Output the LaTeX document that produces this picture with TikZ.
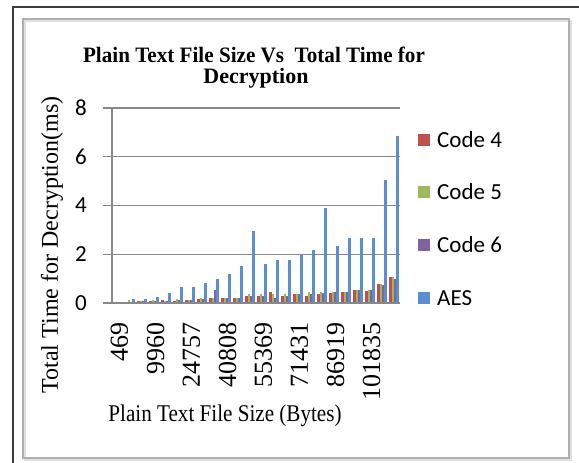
\documentclass[tikz,border=0pt]{standalone}
\usepackage{fontspec}
\setmainfont{Liberation Serif}
\newfontfamily\calfont{Carlito}
\usepackage{graphicx}

\definecolor{codeFour}{HTML}{C0504D}
\definecolor{codeFive}{HTML}{9BBB59}
\definecolor{codeSix}{HTML}{8064A2}
\definecolor{aesBlue}{HTML}{5A8ED0}
\definecolor{gridGray}{RGB}{136,136,136}
\definecolor{frameDark}{RGB}{60,60,60}
\definecolor{panelGray}{RGB}{175,175,175}

\tikzset{
  outerframe/.style={draw=frameDark, line width=1.4pt},
  panel/.style={draw=panelGray, line width=1.3pt},
  panelshadow/.style={draw=black!12, line width=1.6pt},
  gridline/.style={draw=gridGray, line width=1.4pt},
  axisline/.style={draw=gridGray, line width=1.6pt},
  titletext/.style={font=\bfseries\fontsize{22}{22}\selectfont, inner sep=0pt, anchor=base},
  ytick/.style={font=\calfont\fontsize{23}{23}\selectfont, inner sep=0pt, anchor=east},
  xtick/.style={font=\fontsize{26}{26}\selectfont, inner sep=0pt, anchor=east, rotate=90},
  axistitle/.style={font=\fontsize{24}{24}\selectfont, inner sep=0pt},
  legendtext/.style={font=\calfont\fontsize{23}{23}\selectfont, inner sep=0pt, anchor=west},
  legendkey/.style={minimum size=12pt, inner sep=0pt},
}

\begin{document}
\begin{tikzpicture}[x=1pt, y=-1pt]
\useasboundingbox (0,0) rectangle (579,463);
\fill[white] (0,0) rectangle (579,463);

% page frame and chart panel
\draw[outerframe] (13,463) -- (13,7) -- (579,7);
\draw[panelshadow] (25,21) rectangle (571,460);
\draw[panel] (23,19) rectangle (569,458);

% title
\node[titletext] (title1) at (254,62) {\scalebox{0.96}[1]{Plain Text File Size Vs\ \ Total Time for}};
\node[titletext] (title2) at (256,83) {Decryption};

% value grid: 1 unit = 24.375pt, zero line at y=303
\foreach \v in {2,4,6,8} {
  \draw[gridline] (103,{303-24.375*\v}) -- (400,{303-24.375*\v});
  \node[ytick] (yt\v) at (87,{303-24.375*\v}) {\v};
}
\node[ytick] (yt0) at (87,303) {0};

% bars: Code 4 / Code 5 / Code 6 / AES per file size
\foreach \r/\g/\p/\b [count=\i] in {
  0.01/0.02/0.01/0.03, 0.05/0.12/0.05/0.18, 0.10/0.10/0.08/0.18,
  0.10/0.12/0.10/0.25, 0.12/0.10/0.10/0.43, 0.10/0.18/0.12/0.66,
  0.12/0.12/0.12/0.66, 0.15/0.20/0.18/0.84, 0.20/0.20/0.55/1.00,
  0.20/0.20/0.20/1.18, 0.20/0.22/0.20/1.50, 0.30/0.35/0.30/2.96,
  0.30/0.35/0.30/1.59, 0.45/0.35/0.20/1.76, 0.30/0.35/0.30/1.76,
  0.35/0.35/0.35/1.95, 0.30/0.45/0.35/2.17, 0.35/0.45/0.40/3.90,
  0.40/0.45/0.45/2.35, 0.45/0.45/0.45/2.65, 0.55/0.55/0.55/2.65,
  0.50/0.55/0.55/2.65, 0.80/0.80/0.75/5.05, 1.05/1.05/1.00/6.87} {
  \pgfmathsetmacro\cx{112+12*(\i-0.5)}
  \fill[codeFour] ({\cx-4.6},303) rectangle ({\cx-2.3},{303-24.375*\r});
  \fill[codeFive] ({\cx-2.3},303) rectangle ({\cx},{303-24.375*\g});
  \fill[codeSix]  ({\cx},303) rectangle ({\cx+2.3},{303-24.375*\p});
  \fill[aesBlue]  ({\cx+2.3},303) rectangle ({\cx+4.6},{303-24.375*\b});
}

% axes
\draw[axisline] (103,303) -- (400,303);
\draw[axisline] (112,108) -- (112,303);

% category labels (every third file size)
\foreach \lab/\k in {469/1, 9960/4, 24757/7, 40808/10, 55369/13, 71431/16, 86919/19, 101835/22} {
  \node[xtick] (xl\k) at ({112+12*(\k-0.5)+1.5},322) {\lab};
}

% axis titles
\node[axistitle, rotate=90] (ytitle) at (52,245) {Total Time for Decryption(ms)};
\node[axistitle, anchor=base] (xtitle) at (225,421) {\scalebox{0.88}[1]{Plain Text File Size (Bytes)}};

% legend
\foreach \col/\txt/\yy [count=\j] in {codeFour/Code 4/140, codeFive/Code 5/192, codeSix/Code 6/245, aesBlue/AES/298} {
  \node[legendkey, fill=\col] (key\j) at (424,\yy) {};
  \node[legendtext] (leg\j) at (437,\yy) {\txt};
}
\end{tikzpicture}
\end{document}
